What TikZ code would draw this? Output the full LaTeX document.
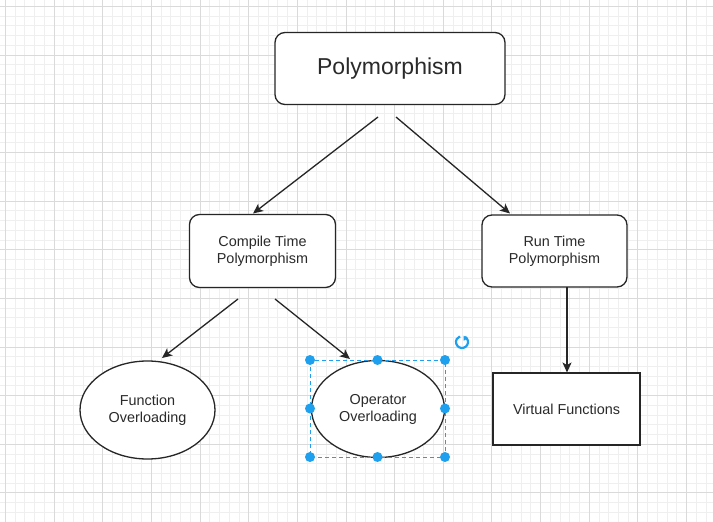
\documentclass[tikz,border=0pt]{standalone}
\usepackage{fontspec}
\setmainfont{Liberation Sans}
\usetikzlibrary{shapes.geometric,arrows.meta}
\definecolor{txt}{HTML}{2A2A2A}
\definecolor{selblue}{HTML}{1EA0EE}
\definecolor{minorc}{HTML}{EFEFEF}
\definecolor{majorc}{HTML}{DADADA}
\tikzset{
  minorgrid/.style={draw=minorc,line width=1pt},
  majorgrid/.style={draw=majorc,line width=1.2pt},
  rbox/.style={draw=black!85,fill=white,line width=1.3pt,rounded corners=10pt,inner sep=0pt,align=center,text=txt},
  sbox/.style={draw=black!85,fill=white,line width=1.3pt,inner sep=0pt,align=center,text=txt},
  ell/.style={ellipse,draw=black!85,fill=white,line width=1.3pt,inner sep=0pt,align=center,text=txt},
  conn/.style={draw=black!85,line width=1.3pt,-{Stealth[length=10pt,width=9pt,inset=2.5pt]}},
  handle/.style={circle,fill=selblue,inner sep=0pt,minimum size=10pt},
  selrect/.style={draw=selblue,line width=1pt,dash pattern=on 4pt off 3pt},
  small/.style={font=\fontsize{14.4}{17}\selectfont},
}
\begin{document}
\begin{tikzpicture}[x=1pt,y=-1pt]
\useasboundingbox (0,0) rectangle (713,522);
\fill[white] (0,0) rectangle (713,522);
% grid
\foreach \i in {0,...,74} {\pgfmathsetmacro\gx{round(-4.73+\i*9.73)+0.5}
  \draw[minorgrid] (\gx,0) -- (\gx,522);}
\foreach \j in {0,...,54} {\pgfmathsetmacro\gy{round(-3.73+\j*9.73)+0.5}
  \draw[minorgrid] (0,\gy) -- (713,\gy);}
\foreach \i in {0,...,14} {\pgfmathsetmacro\gx{round(5+\i*48.65)+0.5}
  \draw[majorgrid] (\gx,0) -- (\gx,522);}
\foreach \j in {0,...,10} {\pgfmathsetmacro\gy{round(6+\j*48.65)+0.5}
  \draw[majorgrid] (0,\gy) -- (713,\gy);}
% nodes
\node[rbox,minimum width=230pt,minimum height=72pt,font=\fontsize{23}{27}\selectfont] (poly) at (390,68.5) {Polymorphism};
\node[rbox,small,minimum width=146pt,minimum height=73pt] (ct) at (262.5,251) {Compile Time\\Polymorphism};
\node[rbox,small,minimum width=145pt,minimum height=72pt] (rt) at (554.5,251) {Run Time\\Polymorphism};
\node[sbox,small,minimum width=147pt,minimum height=72pt] (vf) at (566.5,409) {Virtual Functions};
\node[ell,small,minimum width=135pt,minimum height=98pt] (fo) at (147.5,410) {Function\\Overloading};
\node[ell,small,minimum width=133pt,minimum height=97pt] (op) at (378,409) {Operator\\Overloading};
% connector end points
\coordinate (p1) at (378,117);
\coordinate (p2) at (396,117);
\coordinate (c1) at (238,299);
\coordinate (c2) at (275,299);
\coordinate (r1) at (567,287);
\coordinate (ctt) at (253,213.5);
\coordinate (rtt) at (510,213.5);
\coordinate (fot) at (162,358);
\coordinate (opt) at (350,359);
\coordinate (vft) at (567,372.5);
\draw[conn] (p1) -- (ctt);
\draw[conn] (p2) -- (rtt);
\draw[conn] (c1) -- (fot);
\draw[conn] (c2) -- (opt);
\draw[conn] (r1) -- (vft);
% selection
\draw[selrect] (310,360) rectangle (445,457);
\foreach \x/\y in {310/360,377.5/360,445/360,310/408.5,445/408.5,310/457,377.5/457,445/457}
  \node[handle] at (\x,\y) {};
% rotate icon
\draw[selblue,line width=2.2pt] (462,342) ++(60:6pt) arc (60:-250:6pt);
\fill[selblue] (462,342) ++(75:6.5pt) -- ++(-30:5pt) -- ++(210:5pt) -- cycle;
\end{tikzpicture}
\end{document}
